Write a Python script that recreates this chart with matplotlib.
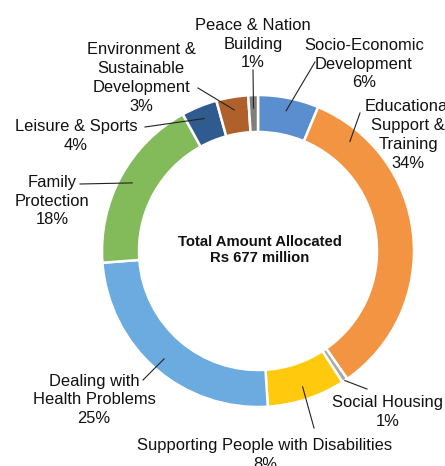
import numpy as np
import matplotlib
matplotlib.use("Agg")
import matplotlib.pyplot as plt

plt.rcParams['font.family'] = ['Liberation Sans', 'DejaVu Sans']

# ---- data (clockwise from 12 o'clock) ----
categories = ["Socio-Economic\nDevelopment", "Educational\nSupport &\nTraining",
              "Social Housing", "Supporting People with Disabilities",
              "Dealing with\nHealth Problems", "Family\nProtection",
              "Leisure & Sports", "Environment &\nSustainable\nDevelopment",
              "Peace & Nation\nBuilding"]
shares = [6.3, 34.0, 0.6, 8.1, 24.8, 18.2, 3.7, 3.3, 1.0]
pct_labels = ["6%", "34%", "1%", "8%", "25%", "18%", "4%", "3%", "1%"]
colors = ["#5B8ECF", "#F39443", "#A9A9A9", "#FFC90E", "#6BABDF",
          "#83BB5B", "#2F5B8F", "#B0602A", "#7F7F7F"]
center_text = "Total Amount Allocated\nRs 677 million"

W, H = 445, 466
fig = plt.figure(figsize=(W / 100, H / 100), dpi=100)
ax = fig.add_axes([0, 0, 1, 1])
ax.set_xlim(0, W)
ax.set_ylim(0, H)
ax.axis('off')

cx, cy, R = 258, H - 251, 156
ring = 37

wedges, _ = ax.pie(shares, colors=colors, startangle=90, counterclock=False,
                   center=(cx, cy), radius=R,
                   wedgeprops=dict(width=ring, edgecolor='white', linewidth=1.8))
ax.set_xlim(0, W)
ax.set_ylim(0, H)
ax.set_aspect('equal')

# layout: text center (px), leader start (px), optional angle override
layout = [
    ((364, 64), (315, 62), None),
    ((408, 135), (360, 113), 40.0),
    ((388, 412), (367, 389), None),
    ((265, 455), (314, 428), None),
    ((94, 400), (143, 380), None),
    ((52, 201), (80, 184), None),
    ((76, 136), (145, 127), None),
    ((141, 78), (198, 88), None),
    ((253, 44), (253, 70), None),
]

cum = np.cumsum([0] + shares)
total = cum[-1]
for i, (cat, pl) in enumerate(zip(categories, pct_labels)):
    (tx, ty), (sx, sy), ang_over = layout[i]
    mid = (cum[i] + cum[i + 1]) / 2 / total * 360.0
    ang = ang_over if ang_over is not None else mid
    rr = R if i == 2 else R - 13
    th = np.deg2rad(90 - ang)
    ex, ey = cx + rr * np.cos(th), cy + rr * np.sin(th)
    ax.plot([sx, ex], [H - sy, ey], color='#222222', lw=0.8, zorder=5)
    ax.text(tx, H - ty, cat + "\n" + pl, ha='center', va='center',
            fontsize=11.9, linespacing=1.31, color='#111111', zorder=6)

ax.text(cx + 2, cy + 1, center_text, ha='center', va='center',
        fontsize=10.7, fontweight='bold', linespacing=1.2, color='#111111')

fig.savefig("out.png", dpi=100)
